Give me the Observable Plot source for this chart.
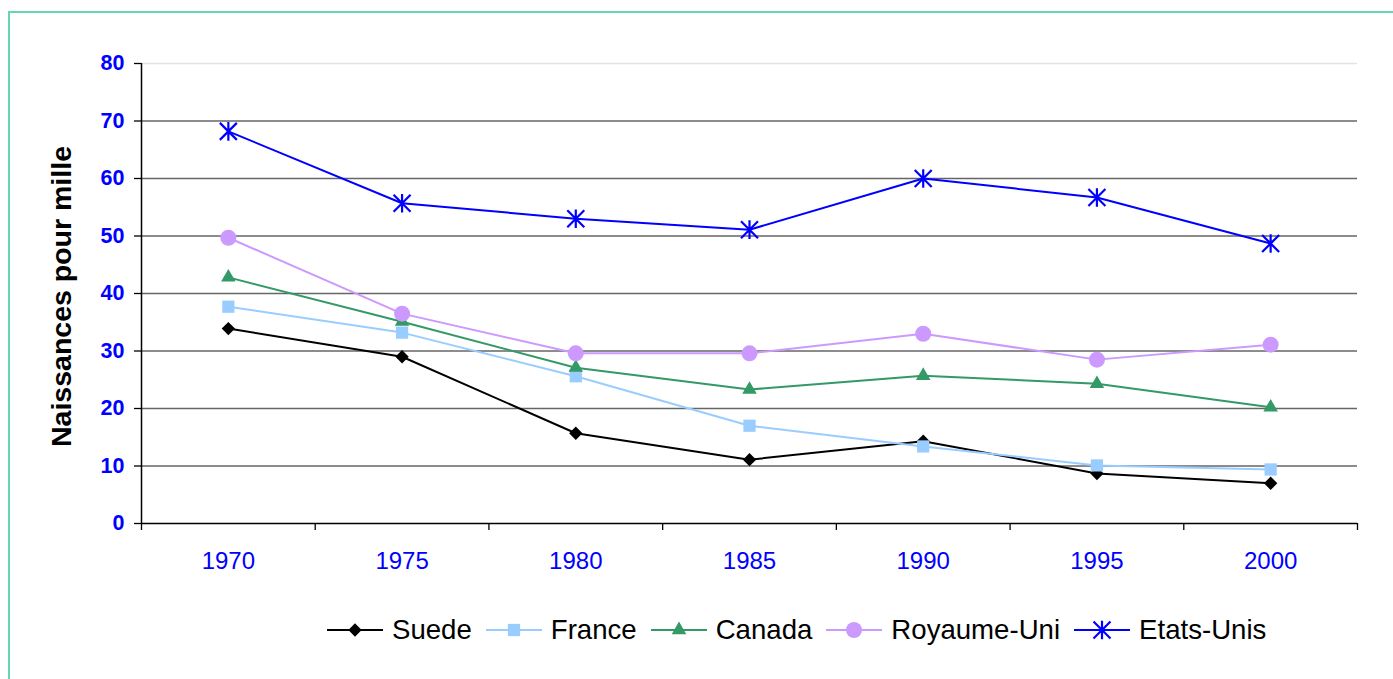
<!DOCTYPE html>
<html>
<head>
<meta charset="utf-8">
<script src="https://cdn.jsdelivr.net/npm/d3@7"></script>
<script src="https://cdn.jsdelivr.net/npm/@observablehq/plot@0.6"></script>
<style>
  html, body { margin: 0; padding: 0; background: #fff; width: 1393px; height: 679px; overflow: hidden; }
  #frame { position: absolute; left: 8px; top: 11px; width: 1500px; height: 800px;
           border-left: 2px solid #66d6ac; border-top: 2px solid #66d6ac; box-sizing: border-box; }
  #chart { position: absolute; left: 0; top: 0; }
  #legend { position: absolute; left: 327px; top: 614px; display: flex; align-items: center;
            font-family: "Liberation Sans", Arial, sans-serif; font-size: 27.6px; color: #000; white-space: nowrap; }
  .item { display: flex; align-items: center; margin-right: 14px; }
  .item svg { margin-right: 9px; }
</style>
</head>
<body>
<div id="frame"></div>
<div id="chart"></div>
<div id="legend"></div>
<script>
const years = [1970, 1975, 1980, 1985, 1990, 1995, 2000];
const seriesNames = ["Suede", "France", "Canada", "Royaume-Uni", "Etats-Unis"];
const suede = [33.9, 29.0, 15.7, 11.1, 14.3, 8.7, 7.0];
const france = [37.7, 33.2, 25.6, 17.0, 13.4, 10.1, 9.4];
const canada = [42.8, 35.1, 27.1, 23.3, 25.7, 24.3, 20.2];
const royaumeUni = [49.7, 36.5, 29.6, 29.6, 33.0, 28.5, 31.1];
const etatsUnis = [68.2, 55.7, 53.0, 51.1, 60.0, 56.7, 48.7];
const yTicks = [0, 10, 20, 30, 40, 50, 60, 70, 80];
const yLabel = "Naissances pour mille";
const colors = ["#000000", "#99ccff", "#339966", "#cc99ff", "#0000ff"];

const values = [suede, france, canada, royaumeUni, etatsUnis];
const data = seriesNames.flatMap((s, i) => years.map((yr, j) => ({series: s, year: yr, value: values[i][j]})));
// category boundaries (between years)
const edges = [...years.map(y => y - 2.5), years[years.length - 1] + 2.5];

const star = {
  draw(context, size) {
    const a = Math.sqrt(size / Math.PI);
    context.moveTo(-a, -a); context.lineTo(a, a);
    context.moveTo(-a, a); context.lineTo(a, -a);
    context.moveTo(0, -a * 1.1); context.lineTo(0, a * 1.1);
  }
};
const symbols = [
  {symbol: "diamond2", r: 6, fill: true},
  {symbol: "square", r: 6.9, fill: true},
  {symbol: "triangle", r: 5.4, fill: true},
  {symbol: "circle", r: 8, fill: true},
  {symbol: star, r: 8.5, fill: false}
];

const marks = [
  Plot.ruleY(yTicks.filter(t => t > 0 && t < 80), {stroke: "#666", strokeWidth: 1.4}),
  Plot.ruleY([80], {stroke: "#e4e4e4", strokeWidth: 1.4}),
  Plot.axisY({ticks: yTicks, tickSize: 7, tickPadding: 10, stroke: "#000", fill: "#0000ff",
              fontSize: 21.5, fontWeight: "bold", label: null, strokeWidth: 1.3}),
  Plot.axisX({ticks: years, tickSize: 0, tickPadding: 28, fill: "#0000ff", fontSize: 24,
              tickFormat: d => String(d), label: null}),
  Plot.axisX({ticks: edges, tickSize: 7, tickFormat: () => "", stroke: "#000", label: null, strokeWidth: 1.3}),
  Plot.ruleX([edges[0]], {stroke: "#000", strokeWidth: 1.5}),
  Plot.ruleY([0], {stroke: "#000", strokeWidth: 1.5}),
  Plot.text([yLabel], {frameAnchor: "left", rotate: -90, dx: -80, dy: 3, fontSize: 28.5, fontWeight: "bold",
                       fill: "#000", textAnchor: "middle", lineAnchor: "middle"})
];
seriesNames.forEach((s, i) => {
  const d = data.filter(r => r.series === s);
  marks.push(Plot.line(d, {x: "year", y: "value", stroke: colors[i], strokeWidth: 2}));
  const sy = symbols[i];
  marks.push(Plot.dot(d, {x: "year", y: "value", symbol: () => sy.symbol, r: sy.r,
    fill: sy.fill ? colors[i] : "none", stroke: sy.fill ? "none" : colors[i], strokeWidth: 2.2}));
});

const chart = Plot.plot({
  width: 1393,
  height: 600,
  marginLeft: 141,
  marginRight: 36,
  marginTop: 63,
  marginBottom: 77,
  style: {fontFamily: "'Liberation Sans', Arial, sans-serif", background: "transparent", overflow: "visible"},
  x: {domain: [edges[0], edges[edges.length - 1]], axis: null},
  y: {domain: [0, 80], axis: null},
  symbol: {type: "identity"},
  marks
});
document.getElementById("chart").appendChild(chart);

// legend
const legend = d3.select("#legend");
const d3sym = [d3.symbolDiamond2, d3.symbolSquare, d3.symbolTriangle, d3.symbolCircle, star];
seriesNames.forEach((s, i) => {
  const item = legend.append("div").attr("class", "item");
  const svg = item.append("svg").attr("width", 56).attr("height", 22);
  svg.append("line").attr("x1", 0).attr("x2", 56).attr("y1", 11).attr("y2", 11)
     .attr("stroke", colors[i]).attr("stroke-width", 2);
  const sy = symbols[i];
  svg.append("path").attr("transform", "translate(28,11)")
     .attr("d", d3.symbol(d3sym[i], Math.PI * sy.r * sy.r)())
     .attr("fill", sy.fill ? colors[i] : "none")
     .attr("stroke", sy.fill ? "none" : colors[i]).attr("stroke-width", 2.2);
  item.append("span").text(s);
});
</script>
</body>
</html>
